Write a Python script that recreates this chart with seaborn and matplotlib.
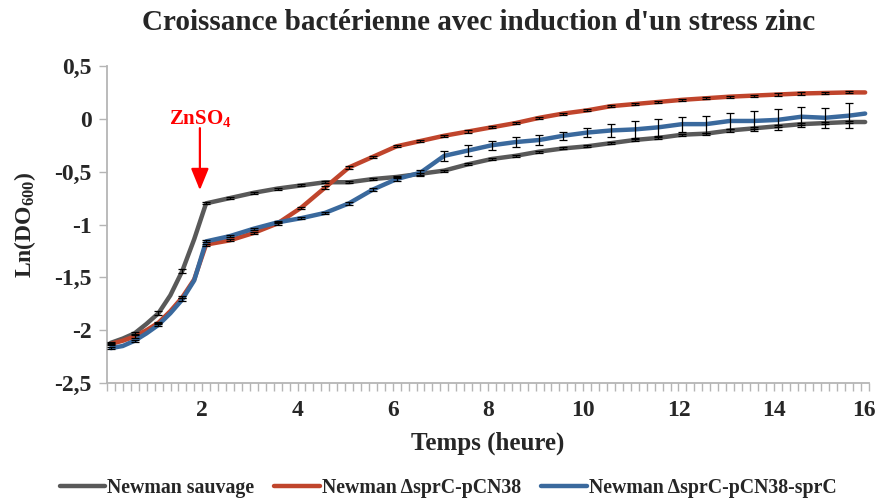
import numpy as np
import pandas as pd
import matplotlib
matplotlib.use("Agg")
import matplotlib.pyplot as plt
import matplotlib.transforms as mtransforms
from matplotlib.ticker import FixedLocator, FuncFormatter
import seaborn as sns

# Sampling times (hours)
temps = [0.08, 0.33, 0.58, 0.83, 1.08, 1.33, 1.58, 1.83, 2.08, 2.58, 3.08,
         3.58, 4.08, 4.58, 5.08, 5.58, 6.08, 6.58, 7.08, 7.58, 8.08, 8.58,
         9.08, 9.58, 10.08, 10.58, 11.08, 11.58, 12.08, 12.58, 13.08, 13.58,
         14.08, 14.58, 15.08, 15.58, 15.92]

# Ln(OD600) per strain
sauvage = [-2.12, -2.08, -2.03, -1.94, -1.84, -1.67, -1.44, -1.14, -0.80,
           -0.75, -0.70, -0.66, -0.63, -0.60, -0.60, -0.57, -0.55, -0.52,
           -0.49, -0.43, -0.38, -0.35, -0.31, -0.28, -0.26, -0.23, -0.20,
           -0.18, -0.15, -0.14, -0.11, -0.09, -0.07, -0.05, -0.04, -0.03,
           -0.03]
pcn38 = [-2.13, -2.10, -2.06, -2.00, -1.93, -1.82, -1.69, -1.52, -1.19,
         -1.15, -1.08, -0.99, -0.84, -0.65, -0.46, -0.36, -0.26, -0.21,
         -0.16, -0.12, -0.08, -0.04, 0.01, 0.05, 0.08, 0.12, 0.14, 0.16,
         0.18, 0.195, 0.21, 0.22, 0.23, 0.24, 0.245, 0.25, 0.25]
pcn38_sprc = [-2.17, -2.15, -2.10, -2.03, -1.95, -1.84, -1.71, -1.53, -1.16,
              -1.11, -1.04, -0.98, -0.94, -0.89, -0.80, -0.67, -0.57, -0.51,
              -0.35, -0.30, -0.25, -0.22, -0.20, -0.16, -0.13, -0.11, -0.10,
              -0.08, -0.05, -0.05, -0.02, -0.02, -0.01, 0.02, 0.01, 0.03,
              0.05]

# Standard deviations (0 = no error bar at that reading)
err_sauvage = [0.01, 0, 0.01, 0, 0.02, 0, 0.02, 0, 0.01, 0.01, 0.01, 0.01,
               0.01, 0.01, 0.01, 0.01, 0.01, 0.01, 0.01, 0.01, 0.01, 0.01,
               0.01, 0.01, 0.01, 0.01, 0.01, 0.01, 0.01, 0.01, 0.01, 0.01,
               0.01, 0.01, 0.01, 0.01, 0]
err_pcn38 = [0.01, 0, 0.01, 0, 0.01, 0, 0.01, 0, 0.01, 0.01, 0.01, 0.01,
             0.01, 0.01, 0.01, 0.01, 0.01, 0.01, 0.01, 0.01, 0.01, 0.01,
             0.01, 0.01, 0.01, 0.01, 0.01, 0.01, 0.01, 0.01, 0.01, 0.01,
             0.01, 0.01, 0.01, 0.01, 0]
err_pcn38_sprc = [0.01, 0, 0.01, 0, 0.015, 0, 0.015, 0, 0.01, 0.01, 0.01,
                  0.01, 0.01, 0.01, 0.015, 0.015, 0.02, 0.03, 0.05, 0.055,
                  0.045, 0.045, 0.05, 0.04, 0.045, 0.065, 0.08, 0.08, 0.07,
                  0.08, 0.08, 0.095, 0.10, 0.095, 0.095, 0.12, 0]

souches = ["Newman sauvage", "Newman ΔsprC-pCN38", "Newman ΔsprC-pCN38-sprC"]
couleurs = ["#595959", "#c0452c", "#3a699d"]

sns.set_theme(style="white")
plt.rcParams["font.family"] = ["Liberation Serif", "DejaVu Serif"]
plt.rcParams["font.weight"] = "bold"
plt.rcParams["mathtext.fontset"] = "custom"
plt.rcParams["mathtext.rm"] = "Liberation Serif:bold"
plt.rcParams["mathtext.bf"] = "Liberation Serif:bold"
plt.rcParams["mathtext.it"] = "Liberation Serif:bold"
plt.rcParams["mathtext.default"] = "bf"

df = pd.DataFrame({
    "temps": temps * 3,
    "ln_do": sauvage + pcn38 + pcn38_sprc,
    "err": err_sauvage + err_pcn38 + err_pcn38_sprc,
    "souche": [souches[0]] * len(temps) + [souches[1]] * len(temps)
              + [souches[2]] * len(temps),
})

fig = plt.figure(figsize=(8.78, 4.99), dpi=100)
ax = fig.add_axes([0.1219, 0.2325, 0.8678, 0.6352])

sns.lineplot(data=df, x="temps", y="ln_do", hue="souche", hue_order=souches,
             palette=couleurs, linewidth=3.2, errorbar=None, sort=False,
             ax=ax, legend=False)

for s in souches:
    sub = df[df["souche"] == s]
    m = sub["err"] > 0
    ax.errorbar(sub["temps"][m], sub["ln_do"][m], yerr=sub["err"][m],
                fmt="none", ecolor="black", elinewidth=0.9, capsize=3,
                capthick=0.9, zorder=5)

ax.set_xlim(0, 16)
ax.set_ylim(-2.5, 0.5)

# axis styling
for side in ["top", "right"]:
    ax.spines[side].set_visible(False)
for side in ["left", "bottom"]:
    ax.spines[side].set_color("#b5b5b5")
    ax.spines[side].set_linewidth(1.3)

ax.xaxis.set_major_locator(FixedLocator([2, 4, 6, 8, 10, 12, 14, 16]))
ax.xaxis.set_minor_locator(FixedLocator(np.arange(0, 16.01, 1 / 6)))
ax.yaxis.set_major_locator(FixedLocator([-2.5, -2, -1.5, -1, -0.5, 0, 0.5]))


def virgule(v, pos):
    return f"{v:g}".replace(".", ",")


ax.yaxis.set_major_formatter(FuncFormatter(virgule))
ax.tick_params(axis="both", which="both", direction="out", color="#b5b5b5",
               width=1.0, labelsize=17)
ax.tick_params(axis="x", which="both", length=6, pad=6, bottom=True)
ax.tick_params(axis="y", which="major", length=6, pad=5, left=True)
for lab in ax.get_xticklabels() + ax.get_yticklabels():
    lab.set_fontweight("bold")

# keep the last hour label inside the figure
fig.canvas.draw()
dernier = ax.get_xticklabels()[-1]
dernier.set_transform(dernier.get_transform()
                      + mtransforms.ScaledTranslation(-5 / 100, 0,
                                                      fig.dpi_scale_trans))

ax.set_xlabel("Temps (heure)", fontsize=18, fontweight="bold", labelpad=8)
ax.set_ylabel("Ln(DO$_{600}$)", fontsize=17, fontweight="bold", labelpad=12)
ax.set_title("Croissance bactérienne avec induction d'un stress zinc",
             fontsize=21, fontweight="bold", pad=26, x=0.488)

# zinc addition marker
ax.annotate("", xy=(1.95, -0.675), xytext=(1.95, -0.088),
            arrowprops=dict(arrowstyle="-|>,head_width=0.45,head_length=1.1",
                            color="#ff0000", lw=1.6, shrinkA=0, shrinkB=0))
ax.text(1.95, 0.0, "ZnSO$_4$", color="#ff0000", fontsize=15,
        fontweight="bold", ha="center", va="center")

handles = [plt.Line2D([], [], color=c, lw=3.2) for c in couleurs]
fig.legend(handles, souches, loc="center left",
           bbox_to_anchor=(0.059, 0.022), ncol=3, frameon=False,
           prop={"family": "Liberation Serif", "weight": "bold", "size": 14.3},
           handlelength=2.3, handletextpad=0.1, columnspacing=1.0,
           borderaxespad=0)

fig.savefig("out.png", dpi=100)
